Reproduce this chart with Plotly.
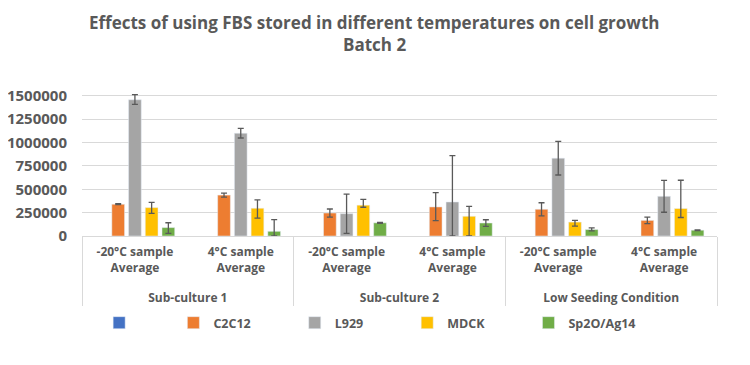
import plotly.graph_objects as go

groups = ["<br>Sub-culture 1", "<br>Sub-culture 1", "<br>Sub-culture 2", "<br>Sub-culture 2",
          "<br>Low Seeding Condition", "<br>Low Seeding Condition"]
samples = ["-20°C sample<br>Average", "4°C sample<br>Average"] * 3

blank = [None, None, None, None, None, None]

c2c12 = [340000, 438000, 246000, 311000, 286000, 167000]
c2c12_plus = [5000, 22000, 43000, 154000, 70000, 35000]
c2c12_minus = [5000, 22000, 43000, 146000, 70000, 35000]

l929 = [1458000, 1100000, 239000, 364000, 833000, 425000]
l929_plus = [55000, 51000, 210000, 497000, 180000, 171000]
l929_minus = [50000, 51000, 210000, 364000, 180000, 171000]

mdck = [304000, 297000, 330000, 211000, 149000, 294000]
mdck_plus = [55000, 90000, 62000, 107000, 18000, 303000]
mdck_minus = [61000, 105000, 22000, 211000, 44000, 96000]

sp2o = [90000, 50000, 141000, 139000, 69000, 62000]
sp2o_plus = [52000, 125000, 5000, 35000, 17000, 4000]
sp2o_minus = [62000, 50000, 5000, 35000, 15000, 4000]

y_ticks = [0, 250000, 500000, 750000, 1000000, 1250000, 1500000]

title_line1 = "Effects of using FBS stored in different temperatures on cell growth"
title_line2 = "Batch 2"

TXT = "#595959"
FONT = "Open Sans"
NB = "\u00a0"

fig = go.Figure()

def err(plus, minus):
    return dict(type="data", symmetric=False, array=plus, arrayminus=minus,
                color="#595959", thickness=1.3, width=3)

x = [groups, samples]
fig.add_trace(go.Bar(name=NB * 9, x=x, y=blank, marker_color="#4472C4"))
fig.add_trace(go.Bar(name="C2C12" + NB * 12, x=x, y=c2c12, marker_color="#ED7D31",
                     error_y=err(c2c12_plus, c2c12_minus)))
fig.add_trace(go.Bar(name="L929" + NB * 12, x=x, y=l929, marker_color="#A5A5A5",
                     error_y=err(l929_plus, l929_minus)))
fig.add_trace(go.Bar(name="MDCK" + NB * 12, x=x, y=mdck, marker_color="#FFC000",
                     error_y=err(mdck_plus, mdck_minus)))
fig.add_trace(go.Bar(name="Sp2O/Ag14", x=x, y=sp2o, marker_color="#70AD47",
                     error_y=err(sp2o_plus, sp2o_minus)))

fig.update_layout(
    width=750, height=365,
    paper_bgcolor="white", plot_bgcolor="white",
    margin=dict(l=74, r=41, t=86, b=137, autoexpand=False),
    barmode="group", bargap=0.21, bargroupgap=0.24,
    font=dict(family=FONT, color=TXT, size=12),
    showlegend=True,
    legend=dict(orientation="h", x=0.027, xanchor="left", y=-0.613, yanchor="middle",
                font=dict(family=FONT, size=12.5, color=TXT, weight="bold"),
                itemwidth=30, traceorder="normal"),
    annotations=[
        dict(text="<b>" + title_line1 + "</b>", xref="paper", yref="paper",
             x=0.46, y=(236 - 22) / 142, xanchor="center", yanchor="middle",
             showarrow=False, font=dict(family=FONT, size=17, color=TXT)),
        dict(text="<b>" + title_line2 + "</b>", xref="paper", yref="paper",
             x=0.46, y=(236 - 44) / 142, xanchor="center", yanchor="middle",
             showarrow=False, font=dict(family=FONT, size=17, color=TXT)),
    ],
)

fig.update_yaxes(range=[0, 1520000], tickvals=y_ticks, tickformat="d",
                 automargin=False, ticklabelstandoff=14,
                 showgrid=True, gridcolor="#D9D9D9", gridwidth=1,
                 zeroline=False, showline=False,
                 tickfont=dict(family=FONT, size=15, color=TXT, weight="bold"))
fig.update_xaxes(type="multicategory", showline=True, linecolor="#D9D9D9", linewidth=1,
                 automargin=False, ticklabelstandoff=5,
                 showdividers=True, dividercolor="#D9D9D9", dividerwidth=1,
                 tickfont=dict(family=FONT, size=12, color=TXT, weight="bold"),
                 ticks="")

fig.write_html("out.html")
